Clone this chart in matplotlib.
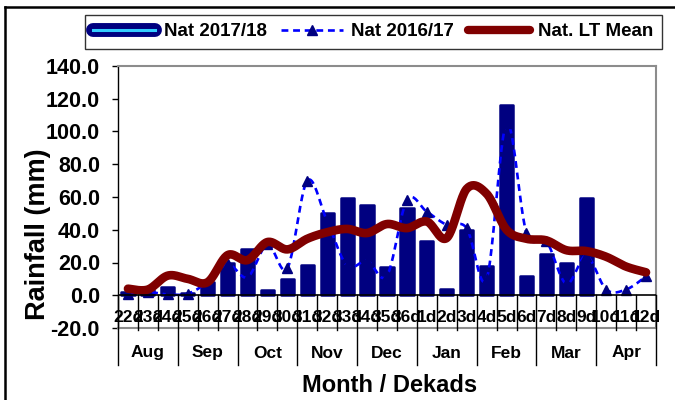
import numpy as np
import matplotlib
matplotlib.use("Agg")
import matplotlib.pyplot as plt
from matplotlib.lines import Line2D
from matplotlib.transforms import blended_transform_factory

plt.rcParams['font.family'] = ['Liberation Sans', 'DejaVu Sans']
plt.rcParams['font.weight'] = 'bold'

# ---------------- data ----------------
dekads = ['22d', '23d', '24d', '25d', '26d', '27d', '28d', '29d', '30d',
          '31d', '32d', '33d', '34d', '35d', '36d', '1d', '2d', '3d',
          '4d', '5d', '6d', '7d', '8d', '9d', '10d', '11d', '12d']
months = ['Aug', 'Sep', 'Oct', 'Nov', 'Dec', 'Jan', 'Feb', 'Mar', 'Apr']
nat_2017_18 = [2, 3.5, 5, 1.5, 8, 20, 28.5, 3, 10, 18.5, 50, 59.5, 55, 17,
               53.5, 33, 4, 40, 18, 116, 12, 25, 19.5, 59.5, 0, 0, 0]
nat_2016_17 = [1, 2, 0.5, 1, 8, 19, 11, 31, 16.5, 70, 45, 18, 21, 12,
               58, 51, 43, 41, 10, 105, 38, 33, 7, 24, 3.5, 3.5, 11.5]
lt_mean = [4, 3.5, 12, 10, 8, 24.5, 21.5, 32.5, 28, 34.5, 38.5, 40.5, 38,
           43.5, 41, 45, 35, 65, 62, 40, 34.5, 33.5, 27.5, 27, 23.5, 17.5, 14]
yticks = [-20, 0, 20, 40, 60, 80, 100, 120, 140]


def smooth(xs, ys, n=24):
    """Excel-like smoothed line (Catmull-Rom Bezier) through the points."""
    xs = np.asarray(xs, float)
    ys = np.asarray(ys, float)
    P = np.column_stack([xs, ys])
    Pe = np.vstack([P[0], P, P[-1]])
    out = []
    t = np.linspace(0, 1, n)[:, None]
    for i in range(len(P) - 1):
        p0, p1, p2, p3 = Pe[i], Pe[i + 1], Pe[i + 2], Pe[i + 3]
        c1 = p1 + (p2 - p0) / 6.0
        c2 = p2 - (p3 - p1) / 6.0
        seg = ((1 - t) ** 3) * p1 + 3 * ((1 - t) ** 2) * t * c1 + \
            3 * (1 - t) * t ** 2 * c2 + t ** 3 * p2
        out.append(seg if i == 0 else seg[1:])
    out = np.vstack(out)
    return out[:, 0], out[:, 1]


W, H = 675, 400
fig = plt.figure(figsize=(W / 100, H / 100), dpi=100)
ax = fig.add_axes([118 / W, 1 - 328 / H, (656 - 118) / W, (328 - 66) / H])

x = np.arange(len(dekads))
navy = '#000080'

bar_lw = [1.8 if v > 0 else 0 for v in nat_2017_18]
ax.bar(x, nat_2017_18, width=0.66, color=navy, edgecolor=navy,
       linewidth=bar_lw, joinstyle='round', zorder=2)

sx, sy = smooth(x, nat_2016_17)
ax.plot(sx, sy, color='#0000FF', lw=1.9, dashes=[2.6, 1.8], zorder=3)
ax.plot(x, nat_2016_17, ls='none', marker='^', ms=7.5, color=navy,
        markeredgecolor=navy, zorder=3)

lx, ly = smooth(x, lt_mean)
ax.plot(lx, ly, color='#800000', lw=6.2, solid_capstyle='round',
        solid_joinstyle='round', zorder=4)

ax.set_xlim(-0.5, len(dekads) - 0.5)
ax.set_ylim(-20, 140)
ax.set_yticks(yticks)
ax.set_yticklabels(['%.1f' % v for v in yticks], fontsize=15.5, fontweight='bold')
ax.tick_params(axis='y', direction='out', length=4, width=1, pad=9, color='black')
ax.set_xticks([])
for s in ['top', 'right', 'bottom']:
    ax.spines[s].set_color('#8c8c8c')
    ax.spines[s].set_linewidth(1.5)
ax.spines['left'].set_color('black')
ax.spines['left'].set_linewidth(1)

# zero line (category axis)
ax.axhline(0, color='black', lw=1.2, zorder=5)

# category labels & dividers
tb = blended_transform_factory(ax.transData, fig.transFigure)
y0 = 1 - 295 / H
for i in range(1, len(dekads)):
    if i % 3 == 0:
        ax.plot([i - 0.5, i - 0.5], [1 - 365 / H, y0], color='black', lw=1,
                transform=tb, clip_on=False, zorder=5)
    else:
        ax.plot([i - 0.5, i - 0.5], [1 - 330 / H, y0], color='black', lw=1,
                transform=tb, clip_on=False, zorder=5)
for xe in [-0.5, len(dekads) - 0.5]:
    ax.plot([xe, xe], [1 - 365 / H, y0], color='black', lw=1,
            transform=tb, clip_on=False, zorder=5)

for i, lab in enumerate(dekads):
    ax.text(i, 1 - 318 / H, lab, transform=tb, ha='center', va='center',
            fontsize=12.5, fontweight='bold', zorder=6)
for j, m in enumerate(months):
    ax.text(3 * j + 1, 1 - 353 / H, m, transform=tb, ha='center', va='center',
            fontsize=12.5, fontweight='bold')

fig.text(38 / W, 1 - 234 / H, 'Rainfall (mm)', rotation=90, ha='center',
         va='center', fontsize=19.5, fontweight='bold')
fig.text(390 / W, 1 - 386 / H, 'Month / Dekads', ha='center', va='center',
         fontsize=17, fontweight='bold')

# legend
h1a = Line2D([], [], color=navy, lw=10, solid_capstyle='round')
h1b = Line2D([], [], color='#33CCFF', lw=2.2)
h2 = Line2D([], [], color='#0000FF', lw=1.9, dashes=[2.6, 1.8], marker='^',
            ms=7, markerfacecolor=navy, markeredgecolor=navy)
h3 = Line2D([], [], color='#800000', lw=6, solid_capstyle='round')
leg = fig.legend([(h1a, h1b), h2, h3], ['Nat 2017/18', 'Nat 2016/17', 'Nat. LT Mean'],
                 loc='center', bbox_to_anchor=(373.5 / W, 1 - 31.5 / H),
                 ncol=3, frameon=True, fancybox=False, edgecolor='black',
                 prop={'family': 'Liberation Sans', 'weight': 'bold', 'size': 13.5},
                 handlelength=3.3, handletextpad=0.45, columnspacing=0.75,
                 borderpad=0.45, borderaxespad=0)
leg.get_frame().set_linewidth(1)

# outer chart border (top and left)
fig.add_artist(Line2D([4.5 / W, 4.5 / W], [0, 1 - 7 / H], color='black', lw=1.8,
                      transform=fig.transFigure))
fig.add_artist(Line2D([4.5 / W, 1], [1 - 7 / H, 1 - 7 / H], color='black', lw=1.8,
                      transform=fig.transFigure))

fig.savefig('out.png', dpi=100)
